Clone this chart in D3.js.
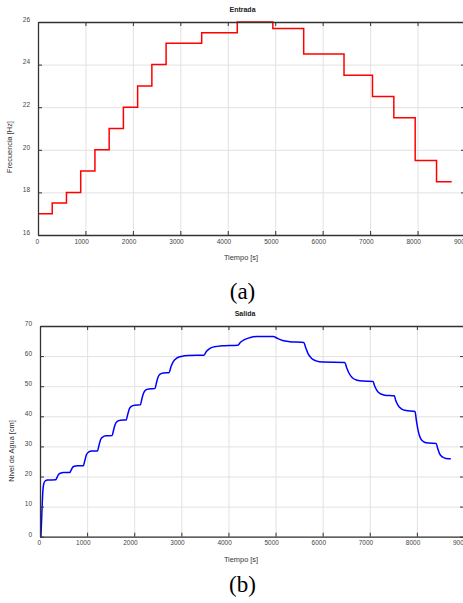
<!DOCTYPE html>
<html>
<head>
<meta charset="utf-8">
<style>
body { margin: 0; background: #fff; }
svg { display: block; font-family: "Liberation Sans", Arial, sans-serif; }
</style>
</head>
<body>
<div id="chart"></div>
<script src="https://d3js.org/d3.v7.min.js"></script>
<script>
// ---- data ----
var xTicks = [0, 1000, 2000, 3000, 4000, 5000, 6000, 7000, 8000, 9000];
var yTicksA = [16, 18, 20, 22, 24, 26];
var yTicksB = [0, 10, 20, 30, 40, 50, 60, 70];

// Entrada: step start times [s] and frequency [Hz]
var entradaT = [0, 300, 600, 900, 1200, 1500, 1800, 2100, 2400, 2700, 3450, 4200, 4950, 5600, 6450, 7050, 7500, 7950, 8400, 8720];
var entradaF = [17, 17.5, 18, 19, 20, 21, 22, 23, 24, 25, 25.5, 26, 25.7, 24.5, 23.5, 22.5, 21.5, 19.5, 18.5, 18.5];

// Salida: water level [cm]
var salidaT = [20, 40, 60, 80, 110, 160, 330,
  360, 390, 430, 500, 630,
  660, 690, 730, 800, 920,
  950, 985, 1030, 1100, 1220,
  1250, 1285, 1330, 1400, 1530,
  1560, 1595, 1640, 1710, 1830,
  1860, 1895, 1940, 2010, 2130,
  2160, 2195, 2240, 2310, 2440,
  2470, 2505, 2550, 2620, 2740,
  2780, 2830, 2900, 3000, 3150, 3480,
  3530, 3600, 3700, 3850, 4200,
  4250, 4330, 4450, 4600, 4950,
  5050, 5150, 5300, 5600,
  5640, 5690, 5760, 5860, 6000, 6470,
  6510, 6560, 6630, 6730, 6850, 7070,
  7100, 7150, 7220, 7320, 7520,
  7550, 7600, 7670, 7770, 7960,
  7990, 8030, 8080, 8160, 8250, 8410,
  8440, 8480, 8540, 8620, 8720];
var salidaL = [0, 8, 15, 17.6, 18.5, 18.8, 18.9,
  19.6, 20.6, 21.1, 21.3, 21.3,
  22.1, 23.0, 23.4, 23.6, 23.6,
  25.2, 27.2, 28.1, 28.5, 28.5,
  30.2, 32.2, 33.1, 33.5, 33.6,
  35.3, 37.3, 38.3, 38.7, 38.8,
  40.5, 42.4, 43.3, 43.7, 43.8,
  45.6, 47.6, 48.7, 49.1, 49.2,
  51.0, 53.0, 54.0, 54.4, 54.5,
  56.5, 58.2, 59.3, 59.9, 60.2, 60.3,
  61.5, 62.5, 63.1, 63.4, 63.6,
  64.5, 65.4, 66.1, 66.5, 66.5,
  65.8, 65.2, 64.8, 64.5,
  62.8, 60.8, 59.3, 58.4, 58.0, 57.9,
  56.1, 54.3, 52.8, 52.0, 51.7, 51.6,
  50.2, 48.6, 47.5, 47.0, 46.8,
  45.3, 43.6, 42.5, 41.9, 41.6,
  38.5, 35.0, 32.6, 31.4, 31.1, 31.0,
  29.4, 27.6, 26.5, 26.0, 25.9];

var W = 463, H = 603;
var svg = d3.select("#chart").append("svg").attr("width", W).attr("height", H);
var fmt = d3.format("d");

function panel(opt) {
  var x = d3.scaleLinear().domain([0, 9000]).range([opt.left, opt.right]);
  var y = d3.scaleLinear().domain(opt.yDomain).range([opt.bottom, opt.top]);
  var g = svg.append("g");

  // grid
  g.append("g").attr("transform", "translate(0," + opt.bottom + ")")
    .call(d3.axisBottom(x).tickValues(xTicks).tickSize(-(opt.bottom - opt.top)).tickFormat(""))
    .call(function(s) { s.select(".domain").remove(); s.selectAll("line").attr("stroke", "#e2e2e2").classed("grid", true); });
  g.append("g").attr("transform", "translate(" + opt.left + ",0)")
    .call(d3.axisLeft(y).tickValues(opt.yTicks).tickSize(-(opt.right - opt.left)).tickFormat(""))
    .call(function(s) { s.select(".domain").remove(); s.selectAll("line").attr("stroke", "#e2e2e2").classed("grid", true); });

  // data line
  g.append("path").datum(opt.data)
    .attr("fill", "none").attr("stroke", opt.color).attr("stroke-width", 1.5)
    .attr("d", d3.line().x(function(d) { return x(d[0]); }).y(function(d) { return y(d[1]); }).curve(opt.curve));

  // box axes with inward ticks
  var ax = g.append("g").attr("transform", "translate(0," + opt.bottom + ")")
    .call(d3.axisBottom(x).tickValues(xTicks).tickFormat(fmt).tickSizeInner(-4).tickSizeOuter(0).tickPadding(4));
  g.append("g").attr("transform", "translate(0," + opt.top + ")")
    .call(d3.axisTop(x).tickValues(xTicks).tickSizeInner(-4).tickSizeOuter(0).tickFormat(""));
  g.append("g").attr("transform", "translate(" + opt.left + ",0)")
    .call(d3.axisLeft(y).tickValues(opt.yTicks).tickFormat(fmt).tickSizeInner(-4).tickSizeOuter(0).tickPadding(8))
    .selectAll("text").attr("dy", "-0.1em");
  g.append("g").attr("transform", "translate(" + opt.right + ",0)")
    .call(d3.axisRight(y).tickValues(opt.yTicks).tickSizeInner(-4).tickSizeOuter(0).tickFormat(""));

  g.selectAll(".domain").attr("stroke", "#333").attr("stroke-width", 1.3);
  g.selectAll(".tick line:not(.grid)").attr("stroke", "#333");
  g.selectAll(".tick text").attr("font-size", 6.5).attr("fill", "#444")
    .attr("font-family", "Liberation Sans, Arial, sans-serif");
  ax.selectAll("text").each(function() {
    var w = this.getComputedTextLength();
    d3.select(this).attr("dx", -0.3 * w);
  });

  // labels
  g.append("text").attr("x", opt.titleX).attr("y", opt.top - 10)
    .attr("text-anchor", "middle").attr("font-size", 7).attr("font-weight", "bold").attr("fill", "#222")
    .text(opt.title);
  g.append("text").attr("x", 241).attr("y", opt.bottom + 25)
    .attr("text-anchor", "middle").attr("font-size", 7.4).attr("fill", "#333")
    .text("Tiempo [s]");
  g.append("text").attr("transform", "translate(" + opt.yLabelX + "," + opt.yLabelY + ") rotate(-90)")
    .attr("text-anchor", "middle").attr("font-size", 7.4).attr("fill", "#333")
    .text(opt.yLabel);
  g.append("text").attr("x", 242.5).attr("y", opt.captionY)
    .attr("text-anchor", "middle").attr("font-size", 23)
    .attr("font-family", "Liberation Serif, Times New Roman, serif").attr("fill", "#000")
    .text(opt.caption);
}

panel({
  left: 38, right: 465, top: 22, bottom: 235, yDomain: [16, 26], yTicks: yTicksA,
  data: entradaT.map(function(t, i) { return [t, entradaF[i]]; }),
  curve: d3.curveStepAfter, color: "#ff0000",
  title: "Entrada", titleX: 242.5, yLabel: "Frecuencia [Hz]", yLabelX: 12, yLabelY: 147,
  caption: "(a)", captionY: 299
});

panel({
  left: 40, right: 464, top: 326, bottom: 536.7, yDomain: [0, 70], yTicks: yTicksB,
  data: salidaT.map(function(t, i) { return [t, salidaL[i]]; }),
  curve: d3.curveMonotoneX, color: "#0000ff",
  title: "Salida", titleX: 245, yLabelX: 14, yLabelY: 451, yLabel: "Nivel de Agua [cm]",
  caption: "(b)", captionY: 592
});
</script>
</body>
</html>
